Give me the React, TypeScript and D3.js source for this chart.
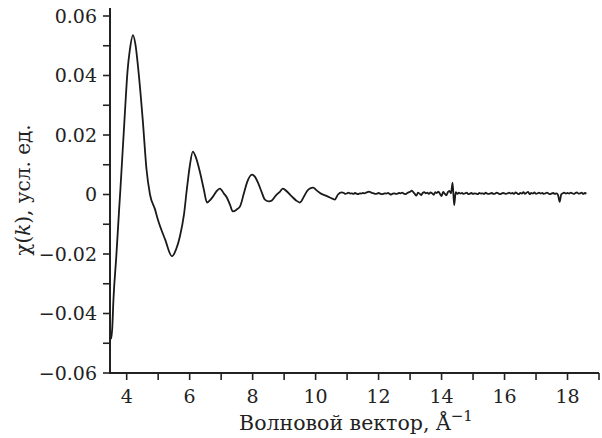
import React, { useEffect, useRef } from "react";
import * as d3 from "d3";

// oscillating part
const mainK = [
  3.5, 3.54, 3.58, 3.67, 3.76, 3.8, 3.93, 4.03, 4.1, 4.2, 4.28, 4.37, 4.51, 4.63, 4.74, 4.9, 4.99,
  5.22, 5.44, 5.57, 5.69, 5.82, 5.91, 6.01, 6.1, 6.2, 6.33, 6.45, 6.55, 6.64, 6.74, 6.87, 6.96, 7.09,
  7.18, 7.28, 7.37, 7.5, 7.6, 7.72, 7.82, 7.98, 8.07, 8.17, 8.29, 8.39, 8.52, 8.61, 8.74, 8.87, 8.96,
  9.09, 9.25, 9.38, 9.5, 9.63, 9.72, 9.82, 9.92, 10.04, 10.17, 10.3, 10.45, 10.61, 10.71, 10.83,
];
const mainChi = [
  -0.0486, -0.0452, -0.0352, -0.0208, -0.005, 0.0017, 0.0251, 0.0419, 0.0486, 0.0536, 0.0503, 0.0419,
  0.0251, 0.0084, 0, -0.005, -0.0084, -0.0151, -0.0208, -0.0184, -0.0141, -0.0067, 0.0017, 0.01,
  0.0144, 0.0124, 0.0074, 0.0017, -0.0027, -0.002, -0.0007, 0.0013, 0.002, 0.0003, -0.001, -0.0034,
  -0.0057, -0.005, -0.004, 0.0003, 0.004, 0.0067, 0.006, 0.004, 0.0007, -0.0017, -0.0023, -0.002,
  -0.0003, 0.001, 0.002, 0.001, -0.0007, -0.002, -0.0027, -0.0007, 0.001, 0.002, 0.0023, 0.0013,
  0.0003, -0.0003, -0.001, -0.0017, 0, 0.0007,
];

// noisy tail, sampled every 0.05 from 10.90
const tailStart = 10.9;
const tailStep = 0.05;
const tailChi = [
  0.0005, 0.0002, 0.0004, 0.0006, 0.0003, 0.0004, 0.0002, 0.0005, 0.0003, 0.0001, 0.0004, 0.0003, 0.0005,
  0.0004, 0.0006, 0.0008, 0.001, 0.0007, 0.0005, 0.0004, 0.0002, 0.0003, 0.0005,
  0.0003, 0.0001, 0.0002, 0.0004, 0.0003, 0.0005, 0.0002, 0.0, 0.0003, 0.0004,
  0.0002, 0.0003, 0.0005, 0.0004, 0.0006, 0.0003, 0.0001, 0.0004, 0.0007, 0.0009,
  0.0013, 0.0008, 0.0002, -0.0004, 0.0006, 0.0003, -0.0002, 0.0005, 0.0008, 0.0004,
  0.0006, 0.0002, 0.0007, 0.0004, -0.0001, 0.0008, 0.0005, 0.001, 0.0002, -0.0005,
  0.0009, 0.0003, -0.0003, 0.0008, 0.0012, 0.0004, 0.004, -0.0036, 0.0008, 0.0002,
  0.0006, 0.0003, 0.0005, 0.0002, 0.0004, 0.0006, 0.0001, 0.0003, 0.0005, 0.0002,
  0.0004, 0.0003, 0.0001, 0.0005, 0.0003, 0.0004, 0.0002, 0.0006, 0.0003, 0.0002,
  0.0004, 0.0005, 0.0002, 0.0003, 0.0006, 0.0004, 0.0001, 0.0003, 0.0005, 0.0004,
  0.0002, 0.0004, 0.0006, 0.0003, 0.0005, 0.0002, 0.0007, 0.0004, 0.0001, 0.0005,
  0.0003, 0.0008, 0.0002, 0.0006, 0.0009, 0.0001, 0.0005, 0.0003, 0.0007, 0.0002,
  0.0004, 0.0006, 0.0003, 0.0005, 0.0002, 0.0004, 0.0006, 0.0003, 0.0001, 0.0004,
  0.0005, 0.0002, 0.0004, -0.0002, -0.0025, 0.0, 0.0004, 0.0006, 0.0003, 0.0005,
  0.0003, 0.0006, 0.0004, 0.0002, 0.0005, 0.0007, 0.0003, 0.0004, 0.0006, 0.0002, 0.0005, 0.0003,
];

const xTicks = [4, 6, 8, 10, 12, 14, 16, 18];
const xMinor = [5, 7, 9, 11, 13, 15, 17, 19];
const yTicks = [-0.06, -0.04, -0.02, 0, 0.02, 0.04, 0.06];
const yMinor = [-0.05, -0.03, -0.01, 0.01, 0.03, 0.05];

const W = 602;
const H = 438;
const FONT = "DejaVu Serif, Liberation Serif, serif";
const FS = 19;

const App = () => {
  const svgRef = useRef<SVGSVGElement>(null);

  useEffect(() => {
    const svg = d3.select(svgRef.current);
    svg.selectAll("*").remove();

    const x = d3.scaleLinear().domain([3.47, 19]).range([110, 599]);
    const y = d3.scaleLinear().domain([-0.06, 0.06]).range([373, 16]);

    const fmt = (v: number) => (v === 0 ? "0" : d3.format(".2f")(v).replace("-", "\u2212"));

    const points: [number, number][] = mainK.map((k, i) => [k, mainChi[i]]);
    tailChi.forEach((v, i) => points.push([tailStart + i * tailStep, v]));

    const line = d3
      .line<[number, number]>()
      .x((d) => x(d[0]))
      .y((d) => y(d[1]))
      .curve(d3.curveMonotoneX);

    svg
      .append("path")
      .datum(points)
      .attr("d", line)
      .attr("fill", "none")
      .attr("stroke", "#1a1a1a")
      .attr("stroke-width", 1.8)
      .attr("stroke-linejoin", "round");

    // y axis
    const yAxis = svg.append("g").attr("transform", "translate(110,0)");
    yAxis.append("line").attr("y1", 8).attr("y2", 374).attr("stroke", "#222").attr("stroke-width", 2);
    yAxis
      .selectAll(".yt")
      .data([...yTicks, ...yMinor])
      .enter()
      .append("line")
      .attr("x1", -7)
      .attr("x2", 0)
      .attr("y1", (d) => y(d))
      .attr("y2", (d) => y(d))
      .attr("stroke", "#222")
      .attr("stroke-width", 1.6);
    yAxis
      .selectAll(".yl")
      .data(yTicks)
      .enter()
      .append("text")
      .attr("x", -13)
      .attr("y", (d) => y(d))
      .attr("dy", "0.36em")
      .attr("text-anchor", "end")
      .style("font-family", FONT)
      .style("font-size", FS + "px")
      .attr("fill", "#222")
      .text(fmt);

    // x axis
    const xAxis = svg.append("g").attr("transform", "translate(0,373)");
    xAxis.append("line").attr("x1", 109).attr("x2", 599).attr("stroke", "#222").attr("stroke-width", 2);
    xAxis
      .selectAll(".xt")
      .data([...xTicks, ...xMinor])
      .enter()
      .append("line")
      .attr("x1", (d) => x(d))
      .attr("x2", (d) => x(d))
      .attr("y1", 0)
      .attr("y2", 7)
      .attr("stroke", "#222")
      .attr("stroke-width", 1.6);
    xAxis
      .selectAll(".xl")
      .data(xTicks)
      .enter()
      .append("text")
      .attr("x", (d) => x(d))
      .attr("y", 30)
      .attr("text-anchor", "middle")
      .style("font-family", FONT)
      .style("font-size", FS + "px")
      .attr("fill", "#222")
      .text((d) => String(d));

    // axis titles
    const xt = svg
      .append("text")
      .attr("x", 356)
      .attr("y", 430)
      .attr("text-anchor", "middle")
      .style("font-family", FONT)
      .style("font-size", "20.5px")
      .attr("fill", "#222");
    xt.append("tspan").text("Волновой вектор, Å");
    xt.append("tspan").attr("dy", -9).style("font-size", "15px").text("\u22121");

    const yt = svg
      .append("text")
      .attr("transform", "translate(30,190) rotate(-90)")
      .attr("text-anchor", "middle")
      .style("font-family", FONT)
      .style("font-size", "20px")
      .attr("fill", "#222");
    yt.append("tspan").text("χ(");
    yt.append("tspan").style("font-style", "italic").text("k");
    yt.append("tspan").text("), усл. ед.");
  }, []);

  return (
    <svg
      ref={svgRef}
      width={W}
      height={H}
      style={{ position: "absolute", left: 0, top: 0, background: "#fff" }}
    ></svg>
  );
};

export default App;
